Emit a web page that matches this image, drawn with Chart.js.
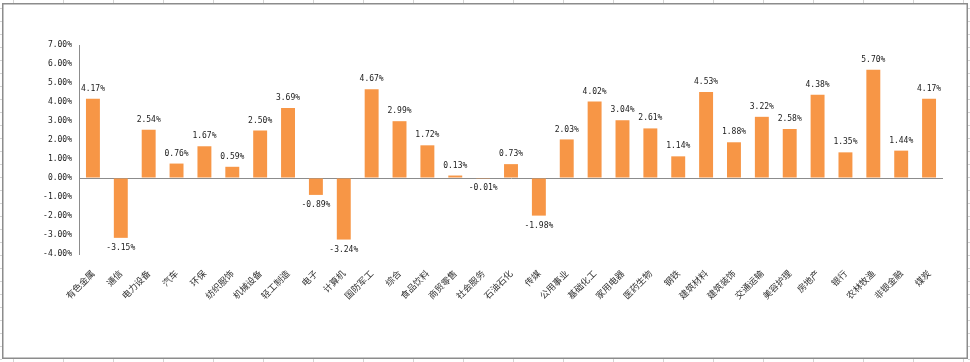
<!DOCTYPE html>
<html>
<head>
<meta charset="utf-8">
<script src="https://cdn.jsdelivr.net/npm/chart.js@4.4.1/dist/chart.umd.min.js"></script>
<style>
  html, body { margin: 0; padding: 0; background: #fff; }
  #wrap { width: 970px; height: 362px; }
</style>
</head>
<body>
<div id="wrap"><canvas id="c" width="970" height="362"></canvas></div>
<script>
const categories = ['有色金属','通信','电力设备','汽车','环保','纺织服饰','机械设备','轻工制造','电子','计算机','国防军工','综合','食品饮料','商贸零售','社会服务','石油石化','传媒','公用事业','基础化工','家用电器','医药生物','钢铁','建筑材料','建筑装饰','交通运输','美容护理','房地产','银行','农林牧渔','非银金融','煤炭'];
const changePct = [4.17,-3.15,2.54,0.76,1.67,0.59,2.50,3.69,-0.89,-3.24,4.67,2.99,1.72,0.13,-0.01,0.73,-1.98,2.03,4.02,3.04,2.61,1.14,4.53,1.88,3.22,2.58,4.38,1.35,5.70,1.44,4.17];
const yMin = -4, yMax = 7, yStep = 1;

const sheetPlugin = {
  id: 'sheet',
  beforeDraw(chart) {
    const ctx = chart.ctx;
    ctx.save();
    ctx.fillStyle = '#fff';
    ctx.fillRect(0, 0, chart.width, chart.height);
    ctx.strokeStyle = '#d4d4d4';
    ctx.lineWidth = 1;
    ctx.beginPath();
    for (let x = 13; x < chart.width; x += 50) {
      ctx.moveTo(x + 0.5, 0); ctx.lineTo(x + 0.5, 3);
      ctx.moveTo(x + 0.5, 359); ctx.lineTo(x + 0.5, chart.height);
    }
    for (let y = 8; y < chart.height; y += 13) {
      ctx.moveTo(0, y + 0.5); ctx.lineTo(2, y + 0.5);
      ctx.moveTo(968, y + 0.5); ctx.lineTo(chart.width, y + 0.5);
    }
    ctx.stroke();
    ctx.strokeStyle = '#8c8c8c';
    ctx.lineWidth = 1.5;
    ctx.strokeRect(2.75, 3.75, 964.5, 354.5);
    ctx.restore();
  }
};

const labelPlugin = {
  id: 'valueLabels',
  afterDatasetsDraw(chart) {
    const ctx = chart.ctx;
    const meta = chart.getDatasetMeta(0);
    ctx.save();
    ctx.font = '8px "DejaVu Sans Mono"';
    ctx.fillStyle = '#1a1a1a';
    ctx.textAlign = 'center';
    ctx.textBaseline = 'middle';
    meta.data.forEach((bar, i) => {
      const v = changePct[i];
      const txt = v.toFixed(2) + '%';
      const y = v >= 0 ? bar.y - 10 : bar.y + 10;
      ctx.fillText(txt, bar.x, y);
    });
    ctx.restore();
  }
};

new Chart(document.getElementById('c'), {
  type: 'bar',
  data: {
    labels: categories,
    datasets: [{
      data: changePct,
      backgroundColor: '#F79646',
      borderWidth: 0,
      barPercentage: 0.5,
      categoryPercentage: 1.0
    }]
  },
  options: {
    responsive: false,
    animation: false,
    devicePixelRatio: 1,
    layout: { padding: { top: 45, right: 27, left: 0, bottom: 0 } },
    plugins: { legend: { display: false }, tooltip: { enabled: false } },
    scales: {
      x: {
        grid: { display: false },
        border: { display: false },
        ticks: {
          autoSkip: false,
          maxRotation: 45,
          minRotation: 45,
          padding: 6,
          color: '#333',
          font: { family: '"Noto Sans CJK SC"', size: 9 }
        },
        afterFit(scale) { scale.height = 108; }
      },
      y: {
        min: yMin,
        max: yMax,
        grid: {
          drawTicks: false,
          color: (c) => (c.tick && c.tick.value === 0) ? '#8c8c8c' : 'rgba(0,0,0,0)',
          lineWidth: 1
        },
        border: { display: true, color: '#8c8c8c', width: 1 },
        ticks: {
          stepSize: yStep,
          padding: 7,
          color: '#1a1a1a',
          font: { family: '"DejaVu Sans Mono"', size: 8 },
          callback: (v) => v.toFixed(2) + '%'
        },
        afterFit(scale) { scale.width = 79; }
      }
    }
  },
  plugins: [sheetPlugin, labelPlugin]
});
</script>
</body>
</html>
